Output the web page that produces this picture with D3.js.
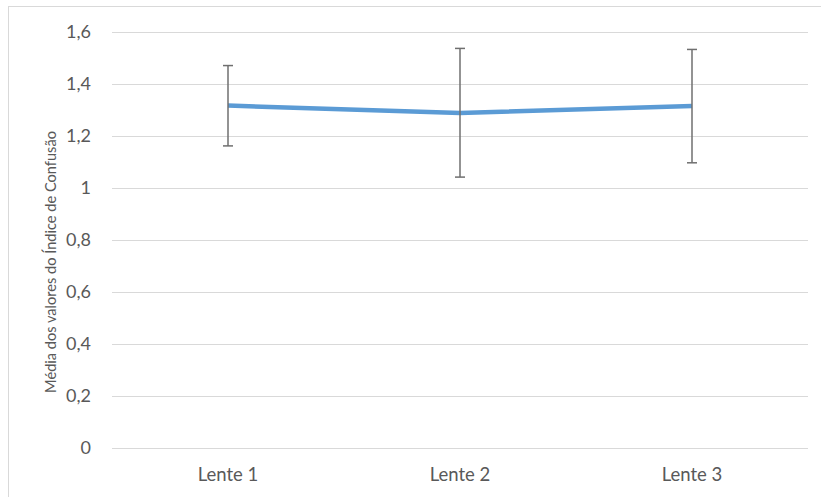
<!DOCTYPE html>
<html>
<head>
<meta charset="utf-8">
<script src="https://cdn.jsdelivr.net/npm/d3@7"></script>
<style>
  html, body { margin: 0; padding: 0; background: #fff; }
  svg { display: block; }
  text { font-family: Lato, "Open Sans", sans-serif; }
</style>
</head>
<body>
<div id="chart"></div>
<script>
// Mean Confusion Index per lens, with error bars
const categories = ["Lente 1", "Lente 2", "Lente 3"];
const means = [1.315, 1.287, 1.313];
const upper = [1.469, 1.535, 1.531];
const lower = [1.160, 1.040, 1.095];
const yTicks = [0, 0.2, 0.4, 0.6, 0.8, 1, 1.2, 1.4, 1.6];
const yTitle = "Média dos valores do Índice de Confusão";

const W = 821, H = 497;
const svg = d3.select("#chart").append("svg").attr("width", W).attr("height", H);

// chart frame
svg.append("rect")
  .attr("x", 8.5).attr("y", 6.5)
  .attr("width", W + 10).attr("height", H + 10)
  .attr("fill", "#fff").attr("stroke", "#d9d9d9").attr("stroke-width", 1);

const margin = { left: 112, right: 13, top: 31.5, bottom: 49.5 };
const x = d3.scaleBand().domain(categories).range([margin.left, W - margin.right]);
const y = d3.scaleLinear().domain([0, 1.6]).range([H - margin.bottom, margin.top]);

// horizontal gridlines
svg.append("g").selectAll("line").data(yTicks).join("line")
  .attr("x1", margin.left).attr("x2", W - margin.right)
  .attr("y1", d => Math.round(y(d)) + 0.5).attr("y2", d => Math.round(y(d)) + 0.5)
  .attr("stroke", "#d9d9d9").attr("stroke-width", 1);

// y axis tick labels
const fmt = d => String(d).replace(".", ",");
const yAxis = d3.axisLeft(y).tickValues(yTicks).tickFormat(fmt).tickSize(0).tickPadding(0);
const gy = svg.append("g").attr("transform", `translate(${margin.left - 21},0)`).call(yAxis);
gy.select(".domain").remove();
gy.selectAll("text").attr("fill", "#595959").style("font-size", "18px")
  .style("font-family", "Lato, 'Open Sans', sans-serif");

// x axis category labels
const xAxis = d3.axisBottom(x).tickSize(0).tickPadding(0);
const gx = svg.append("g").attr("transform", `translate(0,${H - margin.bottom + 20})`).call(xAxis);
gx.select(".domain").remove();
gx.selectAll("text").attr("fill", "#595959").style("font-size", "18.5px")
  .style("font-family", "Lato, 'Open Sans', sans-serif");

// y axis title, starting just above the 0,2 gridline
svg.append("text")
  .attr("transform", `translate(56,${y(0.21)}) rotate(-90)`)
  .attr("text-anchor", "start")
  .attr("fill", "#595959").style("font-size", "14.6px")
  .text(yTitle);

const cx = d => x(d) + x.bandwidth() / 2;
const rows = categories.map((c, i) => ({ c, m: means[i], hi: upper[i], lo: lower[i] }));

// mean line
svg.append("path").datum(rows)
  .attr("fill", "none").attr("stroke", "#5b9bd5").attr("stroke-width", 4.5)
  .attr("stroke-linejoin", "round")
  .attr("d", d3.line().x(d => cx(d.c)).y(d => y(d.m)));

// error bars
const eb = svg.append("g").attr("stroke", "#6f6f6f").attr("stroke-width", 1.5);
eb.selectAll("line.v").data(rows).join("line").attr("class", "v")
  .attr("x1", d => cx(d.c)).attr("x2", d => cx(d.c))
  .attr("y1", d => y(d.hi)).attr("y2", d => y(d.lo));
eb.selectAll("line.t").data(rows).join("line").attr("class", "t")
  .attr("x1", d => cx(d.c) - 5).attr("x2", d => cx(d.c) + 5)
  .attr("y1", d => y(d.hi)).attr("y2", d => y(d.hi));
eb.selectAll("line.b").data(rows).join("line").attr("class", "b")
  .attr("x1", d => cx(d.c) - 5).attr("x2", d => cx(d.c) + 5)
  .attr("y1", d => y(d.lo)).attr("y2", d => y(d.lo));
</script>
</body>
</html>
